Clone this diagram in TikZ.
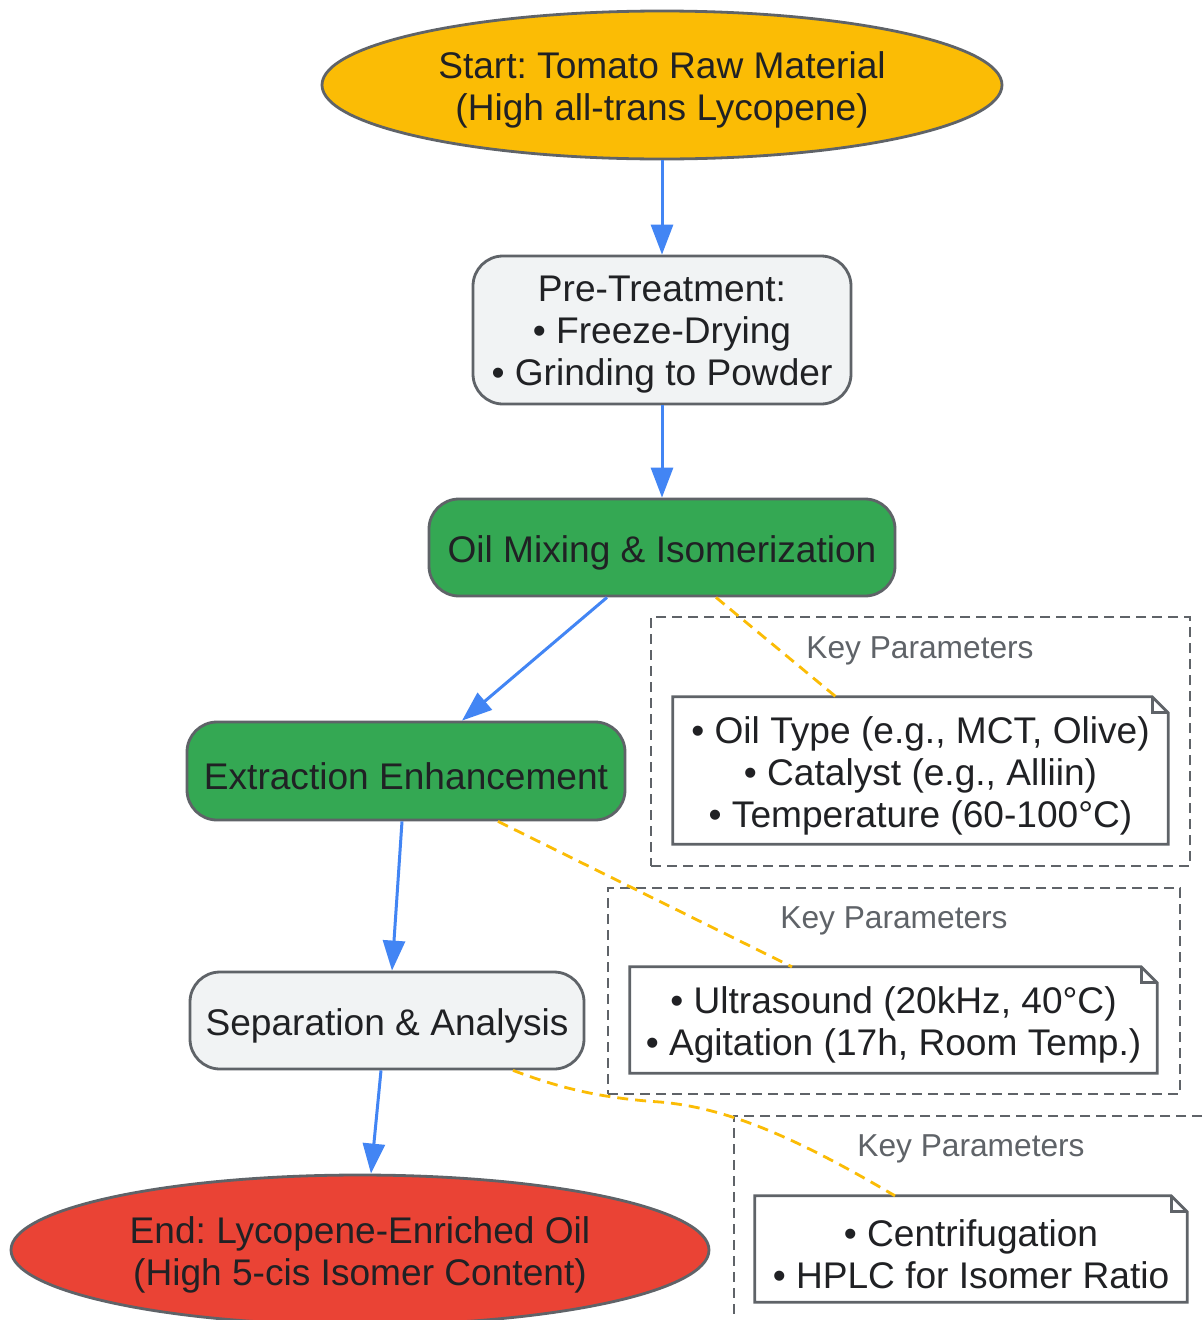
\documentclass[tikz,border=0pt]{standalone}
\usepackage{fontspec}
\setmainfont{Liberation Sans}
\usetikzlibrary{calc,arrows.meta,shapes.geometric}
\definecolor{cyel}{HTML}{FBBC05}
\definecolor{cgreen}{HTML}{34A853}
\definecolor{cred}{HTML}{EA4335}
\definecolor{clight}{HTML}{F1F3F4}
\definecolor{cgray}{HTML}{5F6368}
\definecolor{cblue}{HTML}{4285F4}
\definecolor{ctext}{HTML}{202124}
\tikzset{
  maintext/.style={font=\fontsize{37.1}{42}\selectfont\frenchspacing, text=ctext, align=center, inner sep=0pt},
  oval/.style={ellipse, draw=cgray, line width=2.8pt, inner sep=0pt},
  stepbox/.style={rectangle, rounded corners=30pt, draw=cgray, line width=2.8pt, inner sep=0pt},
  groupbox/.style={rectangle, draw=cgray, line width=2.5pt, dash pattern=on 10pt off 6pt, inner sep=0pt},
  grouplabel/.style={font=\fontsize{31.7}{36}\selectfont, text=cgray},
  notebox/.style={rectangle, inner sep=0pt},
  flow/.style={draw=cblue, line width=3pt, -{Triangle[length=30pt,width=22pt]}},
  link/.style={draw=cyel, line width=2.8pt, dash pattern=on 11pt off 7pt},
  noteline/.style={draw=cgray, line width=2.8pt, fill=white}
}
\newcommand{\notedraw}[1]{%
  \draw[noteline] (#1.north west) -- ($(#1.north east)+(-16,0)$) -- ($(#1.north east)+(0,16)$) -- (#1.south east) -- (#1.south west) -- cycle;
  \draw[draw=cgray, line width=2.8pt] ($(#1.north east)+(-16,0)$) -- ($(#1.north east)+(-16,16)$) -- ($(#1.north east)+(0,16)$);
}
\begin{document}
\begin{tikzpicture}[x=1pt,y=-1pt]
\useasboundingbox (0,0) rectangle (1203,1320);
\clip (0,0) rectangle (1203,1320);
\fill[white] (0,0) rectangle (1203,1320);

% groups
\node[groupbox, minimum width=539pt, minimum height=249pt] (g1) at (920.5,741.5) {};
\node[grouplabel] (g1l) at (920,651) {Key Parameters};
\node[groupbox, minimum width=572pt, minimum height=206pt] (g2) at (894,991) {};
\node[grouplabel] (g2l) at (894,921) {Key Parameters};
\node[groupbox, minimum width=490pt, minimum height=240pt] (g3) at (979,1236) {};
\node[grouplabel] (g3l) at (971,1149) {Key Parameters};

% notes
\node[notebox, minimum width=495pt, minimum height=147pt] (n1) at (920.5,770.5) {};
\notedraw{n1}
\node[maintext] (n1t) at ($(n1)+(0,5)$) {• Oil Type (e.g., MCT, Olive)\\• Catalyst (e.g., Alliin)\\• Temperature (60-100°C)};
\node[notebox, minimum width=527pt, minimum height=106pt] (n2) at (893.5,1020) {};
\notedraw{n2}
\node[maintext] (n2t) at ($(n2)+(0,5)$) {• Ultrasound (20kHz, 40°C)\\• Agitation (17h, Room Temp.)};
\node[notebox, minimum width=432pt, minimum height=106pt] (n3) at (971,1249) {};
\notedraw{n3}
\node[maintext] (n3t) at ($(n3)+(0,5)$) {• Centrifugation\\• HPLC for Isomer Ratio};

% main nodes
\node[oval, fill=cyel, minimum width=680pt, minimum height=148pt] (start) at (662,85) {};
\node[maintext] (startt) at ($(start)+(0,5)$) {Start: Tomato Raw Material\\(High all-trans Lycopene)};
\node[stepbox, fill=clight, minimum width=378pt, minimum height=148pt] (pre) at (662,330) {};
\node[maintext] (pret) at ($(pre)+(0,5)$) {Pre-Treatment:\\• Freeze-Drying\\• Grinding to Powder};
\node[stepbox, fill=cgreen, minimum width=466pt, minimum height=97pt] (oil) at (662,547.5) {};
\node[maintext] (oilt) at ($(oil)+(0,5)$) {Oil Mixing \& Isomerization};
\node[stepbox, fill=cgreen, minimum width=438pt, minimum height=98pt] (ext) at (406,771) {};
\node[maintext] (extt) at ($(ext)+(0,5)$) {Extraction Enhancement};
\node[stepbox, fill=clight, minimum width=394pt, minimum height=97pt] (sep) at (387,1020.5) {};
\node[maintext] (sept) at ($(sep)+(0,5)$) {Separation \& Analysis};
\node[oval, fill=cred, minimum width=698pt, minimum height=150pt] (end) at (360,1250) {};
\node[maintext] (endt) at ($(end)+(0,5)$) {End: Lycopene-Enriched Oil\\(High 5-cis Isomer Content)};

% flow arrows
\draw[flow] (start.south) -- (pre.north);
\draw[flow] (pre.south) -- (oil.north);
\draw[flow] ($(oil.south)+(-55,0)$) -- ($(ext.north)+(56,0)$);
\draw[flow] ($(ext.south)+(-4,0)$) -- ($(sep.north)+(5,0)$);
\draw[flow] ($(sep.south)+(-6,0)$) -- ($(end.north)+(11,0)$);

% links
\draw[link] ($(oil.south)+(54,0)$) -- ($(n1.north)+(-84.5,0)$);
\draw[link] ($(ext.south)+(92,0)$) -- ($(n2.north)+(-101.5,0)$);
\coordinate (c3m) at (660,1102);
\draw[link] ($(sep.south)+(126,0)$) .. controls (560,1088) and (600,1098) .. (c3m) .. controls (730,1108) and (800,1140) .. ($(n3.north)+(-76,0)$);
\end{tikzpicture}
\end{document}
